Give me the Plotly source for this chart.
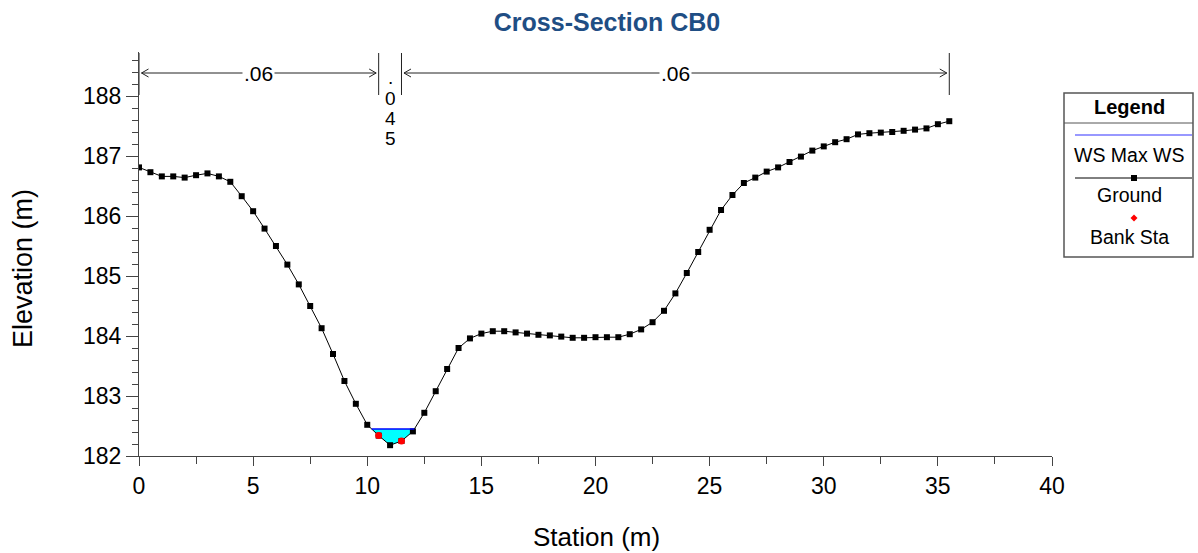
import numpy as np
import plotly.graph_objects as go

# ---------------- data ----------------
station = [0.0, 0.5, 1.0, 1.5, 2.0, 2.5, 3.0, 3.5, 4.0, 4.5, 5.0, 5.5, 6.0, 6.5, 7.0, 7.5,
           8.0, 8.5, 9.0, 9.5, 10.0, 10.5, 11.0, 11.5, 12.0, 12.5, 13.0, 13.5, 14.0, 14.5,
           15.0, 15.5, 16.0, 16.5, 17.0, 17.5, 18.0, 18.5, 19.0, 19.5, 20.0, 20.5, 21.0,
           21.5, 22.0, 22.5, 23.0, 23.5, 24.0, 24.5, 25.0, 25.5, 26.0, 26.5, 27.0, 27.5,
           28.0, 28.5, 29.0, 29.5, 30.0, 30.5, 31.0, 31.5, 32.0, 32.5, 33.0, 33.5, 34.0,
           34.5, 35.0, 35.5]
elevation = [186.81, 186.73, 186.66, 186.66, 186.64, 186.68, 186.71, 186.66, 186.57, 186.33,
             186.08, 185.79, 185.50, 185.19, 184.86, 184.50, 184.13, 183.70, 183.25, 182.87,
             182.52, 182.34, 182.18, 182.25, 182.41, 182.72, 183.08, 183.45, 183.80, 183.96,
             184.04, 184.08, 184.08, 184.06, 184.04, 184.02, 184.01, 183.99, 183.97, 183.97,
             183.98, 183.98, 183.98, 184.03, 184.11, 184.23, 184.42, 184.71, 185.05, 185.40,
             185.77, 186.10, 186.35, 186.55, 186.64, 186.74, 186.81, 186.90, 186.99, 187.09,
             187.16, 187.23, 187.28, 187.36, 187.38, 187.39, 187.40, 187.42, 187.44, 187.46,
             187.53, 187.58]
bank_sta = [10.5, 11.5]
ws_max = 182.45
mann_bounds = [0.0, 10.5, 11.5, 35.5]
mann_n = [".06", ".045", ".06"]
x_ticks = [0, 5, 10, 15, 20, 25, 30, 35, 40]
y_ticks = [182, 183, 184, 185, 186, 187, 188]

title_text = "Cross-Section CB0"
x_title = "Station (m)"
y_title = "Elevation (m)"
legend_title = "Legend"
legend_items = ["WS Max WS", "Ground", "Bank Sta"]

FONT = "Liberation Sans, Arial, sans-serif"

# ---------------- geometry helpers ----------------
W, H = 1198, 553
L, R, T, B = 139, 146, 52, 97
PW, PH = W - L - R, H - T - B


def pxx(p):
    return (p - L) / PW


def pxy(p):
    return (H - B - p) / PH


st = np.array(station)
el = np.array(elevation)

# water surface extent (intersection with ground around the thalweg)
imin = int(np.argmin(el))
il = imin
while il > 0 and el[il - 1] < ws_max:
    il -= 1
ir = imin
while ir < len(el) - 1 and el[ir + 1] < ws_max:
    ir += 1
xl = st[il - 1] + (ws_max - el[il - 1]) * (st[il] - st[il - 1]) / (el[il] - el[il - 1])
xr = st[ir] + (ws_max - el[ir]) * (st[ir + 1] - st[ir]) / (el[ir + 1] - el[ir])
fill_x = [xl] + list(st[il:ir + 1]) + [xr]
fill_y = [ws_max] + list(el[il:ir + 1]) + [ws_max]

bank_el = list(np.interp(bank_sta, st, el))

fig = go.Figure()
fig.add_trace(go.Scatter(x=fill_x, y=fill_y, fill="toself", fillcolor="#00FFFF",
                         line=dict(width=0), mode="lines", hoverinfo="skip", showlegend=False))
fig.add_trace(go.Scatter(x=station, y=elevation, mode="lines+markers",
                         line=dict(color="black", width=1),
                         marker=dict(symbol="square", size=6, color="black"),
                         showlegend=False, name="Ground"))
fig.add_trace(go.Scatter(x=[xl, xr], y=[ws_max, ws_max], mode="lines",
                         line=dict(color="#0000FF", width=1.5), showlegend=False, name="WS Max WS"))
fig.add_trace(go.Scatter(x=bank_sta, y=bank_el, mode="markers",
                         marker=dict(symbol="circle", size=7, color="#FF0000"),
                         showlegend=False, name="Bank Sta"))

shapes = []
annotations = []

# ---------------- Manning's n bracket annotations ----------------
line_y = pxy(73)
vt0, vt1 = pxy(53), pxy(95)
ah_dx = 7 / PW * 40  # chevron length in data units
ah_dy = 4 / PH
for b in mann_bounds:
    shapes.append(dict(type="line", xref="x", yref="paper", x0=b, x1=b, y0=vt1, y1=vt0,
                       line=dict(color="#222", width=1)))
gap = 2.5 / PW * 40
for i, lab in enumerate(mann_n):
    a, b = mann_bounds[i], mann_bounds[i + 1]
    if b - a > 2:
        x0, x1 = a + gap, b - gap
        shapes.append(dict(type="line", xref="x", yref="paper", x0=x0, x1=x1, y0=line_y, y1=line_y,
                           line=dict(color="#222", width=1)))
        for (xa, sgn) in ((x0, 1), (x1, -1)):
            shapes.append(dict(type="path", xref="x", yref="paper",
                               path=f"M {xa + sgn*ah_dx},{line_y + ah_dy} L {xa},{line_y} L {xa + sgn*ah_dx},{line_y - ah_dy}",
                               line=dict(color="#222", width=1)))
        annotations.append(dict(x=(a + b) / 2, y=line_y, xref="x", yref="paper", text=lab,
                                showarrow=False, bgcolor="white", borderpad=1,
                                font=dict(family=FONT, size=21, color="black"),
                                xanchor="center", yanchor="middle"))
    else:
        for k, ch in enumerate(lab):
            annotations.append(dict(x=(a + b) / 2, y=pxy(78 + 20 * k), xref="x", yref="paper",
                                    text=ch, showarrow=False, height=17, borderpad=0,
                                    valign="middle",
                                    font=dict(family=FONT, size=19, color="black"),
                                    xanchor="center", yanchor="middle"))

# ---------------- custom legend box ----------------
lx0, lx1, ly0, ly1 = 1064, 1193, 93, 257
shapes.append(dict(type="rect", xref="paper", yref="paper", x0=pxx(lx0), x1=pxx(lx1),
                   y0=pxy(ly1), y1=pxy(ly0), line=dict(color="#555", width=1.5), fillcolor="white"))
shapes.append(dict(type="line", xref="paper", yref="paper", x0=pxx(lx0), x1=pxx(lx1),
                   y0=pxy(123), y1=pxy(123), line=dict(color="#555", width=1)))
shapes.append(dict(type="line", xref="paper", yref="paper", x0=pxx(1075), x1=pxx(1192),
                   y0=pxy(135), y1=pxy(135), line=dict(color="#3333FF", width=1.2)))
shapes.append(dict(type="line", xref="paper", yref="paper", x0=pxx(1075), x1=pxx(1192),
                   y0=pxy(178), y1=pxy(178), line=dict(color="black", width=1)))
shapes.append(dict(type="rect", xref="paper", yref="paper", x0=pxx(1131), x1=pxx(1137),
                   y0=pxy(181), y1=pxy(175), line=dict(width=0), fillcolor="black"))
dcx, dcy = 1134, 218
shapes.append(dict(type="path", xref="paper", yref="paper",
                   path=f"M {pxx(dcx-3.5)},{pxy(dcy)} L {pxx(dcx)},{pxy(dcy-3.5)} L {pxx(dcx+3.5)},{pxy(dcy)} L {pxx(dcx)},{pxy(dcy+3.5)} Z",
                   line=dict(width=0), fillcolor="#FF0000"))
lcx = pxx((lx0 + lx1) / 2 + 1)
annotations.append(dict(x=lcx, y=pxy(107), xref="paper", yref="paper", text=f"<b>{legend_title}</b>",
                        showarrow=False, font=dict(family=FONT, size=20, color="black"),
                        xanchor="center", yanchor="middle"))
for txt, yy in zip(legend_items, [155, 195, 237]):
    annotations.append(dict(x=lcx, y=pxy(yy), xref="paper", yref="paper", text=txt,
                            showarrow=False, font=dict(family=FONT, size=19.5, color="black"),
                            xanchor="center", yanchor="middle"))

# ---------------- axis titles ----------------
annotations.append(dict(x=pxx(596), y=pxy(537), xref="paper", yref="paper", text=x_title,
                        showarrow=False, font=dict(family=FONT, size=26, color="black"),
                        xanchor="center", yanchor="middle"))
annotations.append(dict(x=pxx(23), y=pxy(268), xref="paper", yref="paper", text=y_title,
                        showarrow=False, textangle=-90, font=dict(family=FONT, size=27, color="black"),
                        xanchor="center", yanchor="middle"))

fig.update_layout(
    width=W, height=H, autosize=False,
    margin=dict(l=L, r=R, t=T, b=B, pad=0),
    paper_bgcolor="white", plot_bgcolor="white",
    title=dict(text=f"<b>{title_text}</b>", x=607 / W, xref="container", xanchor="center",
               y=1 - 22 / H, yref="container", yanchor="middle",
               font=dict(family=FONT, size=25, color="#1F4E84")),
    shapes=shapes, annotations=annotations, showlegend=False,
    xaxis=dict(range=[0, 40], tickvals=x_ticks, ticktext=[str(v) for v in x_ticks],
               showgrid=False, zeroline=False, showline=True, linecolor="#444", linewidth=1,
               ticks="outside", ticklen=9, tickcolor="#444", tickwidth=1,
               minor=dict(dtick=2.5, ticks="outside", ticklen=7, tickcolor="#444", showgrid=False),
               tickfont=dict(family=FONT, size=23, color="black")),
    yaxis=dict(range=[182, 182 + (H - B - T) / 60], tickvals=y_ticks, ticktext=[str(v) for v in y_ticks],
               showgrid=False, zeroline=False, showline=True, linecolor="#444", linewidth=1,
               ticks="outside", ticklen=12, tickcolor="#444", tickwidth=1,
               minor=dict(dtick=0.2, tick0=182, ticks="outside", ticklen=6, tickcolor="#444", showgrid=False),
               tickfont=dict(family=FONT, size=23, color="black")),
)

fig.write_html("out.html")
